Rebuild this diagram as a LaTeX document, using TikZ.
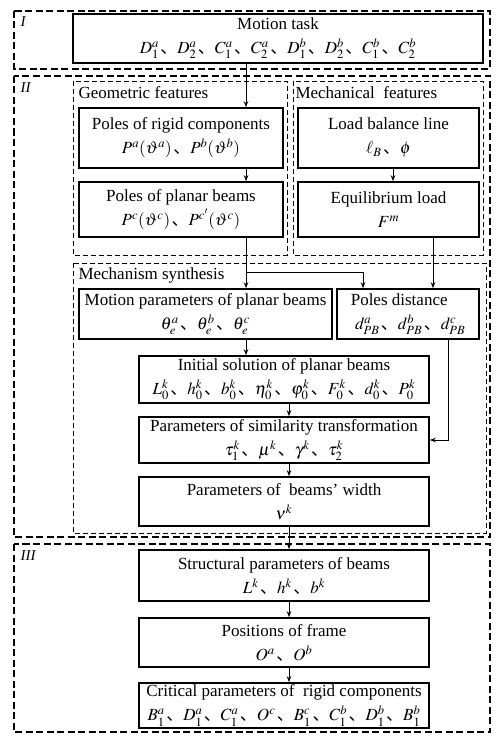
\documentclass[tikz,border=0pt]{standalone}
\usepackage{mathptmx}
\usepackage{fontspec}
\setmainfont{Liberation Serif}
\newfontfamily\cjk{Noto Sans CJK SC}
\usetikzlibrary{arrows.meta}
\newcommand{\sepmark}{\kern1.5pt\smash{\cjk 、}}
\tikzset{
% Solid boxes for the steps, dashed frames for stages and groups
stepbox/.style={draw,line width=1.6pt,align=center,inner sep=2pt},
stage/.style={draw,line width=1.5pt,dash pattern=on 7pt off 3.5pt},
group/.style={draw,line width=0.8pt,dash pattern=on 5pt off 3pt},
flow/.style={line width=1pt,-{Stealth[length=6pt,width=4.5pt]}}
}
\begin{document}
\begin{tikzpicture}[x=1pt,y=-1pt,font=\fontsize{17}{24}\selectfont]
\useasboundingbox (0,0) rectangle (500,741);
% Stages and groups
\draw[stage] (14,11) rectangle (490,69);
\draw[stage] (14,76) rectangle (490,537);
\draw[stage] (14,544) rectangle (490,732);
\draw[group] (73,81) rectangle (287,255);
\draw[group] (293,81) rectangle (483,255);
\draw[group] (73,263) rectangle (486,533);
\node(s1)[anchor=north west,font=\fontsize{15}{18}\selectfont\itshape] at (17,13) {I};
\node(s2)[anchor=north west,font=\fontsize{15}{18}\selectfont\itshape] at (17,79) {II};
\node(s3)[anchor=north west,font=\fontsize{15}{18}\selectfont\itshape] at (17,547) {III};
\node(g1)[anchor=west] at (75,93) {Geometric features};
\node(g2)[anchor=west] at (292,93) {Mechanical\ \ features};
\node(g3)[anchor=west] at (75,275) {Mechanism synthesis};
% The steps
\node(task)[stepbox,minimum width=410,minimum height=49] at (278,38.5)
{Motion task\\$D_1^a$\sepmark$D_2^a$\sepmark$C_1^a$\sepmark$C_2^a$\sepmark$D_1^b$\sepmark$D_2^b$\sepmark$C_1^b$\sepmark$C_2^b$};
\node(rigid)[stepbox,minimum width=204,minimum height=60] at (181,138)
{Poles of rigid components\\$P^{a}(\vartheta^{a})$\sepmark$P^{b}(\vartheta^{b})$};
\node(planar)[stepbox,minimum width=204,minimum height=55] at (181,209.5)
{Poles of planar beams\\$P^{c}(\vartheta^{c})$\sepmark$P^{c'}(\vartheta^{c})$};
\node(load)[stepbox,minimum width=181,minimum height=60] at (388.5,138)
{Load balance line\\$\ell_{B}$\sepmark$\phi$};
\node(equil)[stepbox,minimum width=181,minimum height=55] at (388.5,209.5)
{Equilibrium load\\$F^{m}$};
\node(motion)[stepbox,minimum width=253,minimum height=50] at (205.5,314)
{Motion parameters of planar beams\\$\theta_e^a$\sepmark$\theta_e^b$\sepmark$\theta_e^c$};
\node(dist)[stepbox,align=left,minimum width=142,minimum height=50] at (408,314)
{Poles distance\\\ $d_{PB}^{a}$\sepmark$d_{PB}^{b}$\sepmark$d_{PB}^{c}$};
\node(init)[stepbox,minimum width=290,minimum height=47] at (284,379.5)
{Initial solution of planar beams\\$L_0^k$\sepmark$h_0^k$\sepmark$b_0^k$\sepmark$\eta_0^k$\sepmark$\varphi_0^k$\sepmark$F_0^k$\sepmark$d_0^k$\sepmark$P_0^k$};
\node(simil)[stepbox,minimum width=290,minimum height=46] at (284,440)
{Parameters of similarity transformation\\$\tau_1^k$\sepmark$\mu^k$\sepmark$\gamma^k$\sepmark$\tau_2^k$};
\node(width)[stepbox,minimum width=290,minimum height=49] at (284,501.5)
{Parameters of\ \ beams' width\\$\nu^k$};
\node(struct)[stepbox,minimum width=290,minimum height=51] at (284,575.5)
{Structural parameters of beams\\$L^k$\sepmark$h^k$\sepmark$b^k$};
\node(frame)[stepbox,minimum width=290,minimum height=49] at (284,642.5)
{Positions of frame\\$O^a$\sepmark$O^b$};
\node(crit)[stepbox,minimum width=290,minimum height=45] at (284,705.5)
{Critical parameters of\ \ rigid components\\$B_1^a$\sepmark$D_1^a$\sepmark$C_1^a$\sepmark$O^c$\sepmark$B_1^c$\sepmark$C_1^b$\sepmark$D_1^b$\sepmark$B_1^b$};
% Connectors
\coordinate(xa) at (246,0);
\coordinate(xb) at (289,0);
\coordinate(xc) at (363,0);
\coordinate(xd) at (433,0);
\coordinate(xe) at (448,0);
\coordinate(xf) at (393,0);
\coordinate(ya) at (0,272);
\draw[flow] (task.south -| xa) -- (rigid.north -| xa);
\draw[flow] (rigid.south -| xa) -- (planar.north -| xa);
\draw[flow] (planar.south -| xa) -- (motion.north -| xa);
\draw[flow] (ya -| xa) -| (dist.north -| xc);
\draw[flow] (load.south -| xf) -- (equil.north -| xf);
\draw[flow] (equil.south -| xd) -- (dist.north -| xd);
\draw[flow] (motion.south -| xa) -- (init.north -| xa);
\draw[flow] (dist.south -| xe) |- (simil.east);
\draw[flow] (init.south -| xb) -- (simil.north -| xb);
\draw[flow] (simil.south -| xb) -- (width.north -| xb);
\draw[flow] (width.south -| xb) -- (struct.north -| xb);
\draw[flow] (struct.south -| xb) -- (frame.north -| xb);
\draw[flow] (frame.south -| xb) -- (crit.north -| xb);
\end{tikzpicture}
\end{document}
